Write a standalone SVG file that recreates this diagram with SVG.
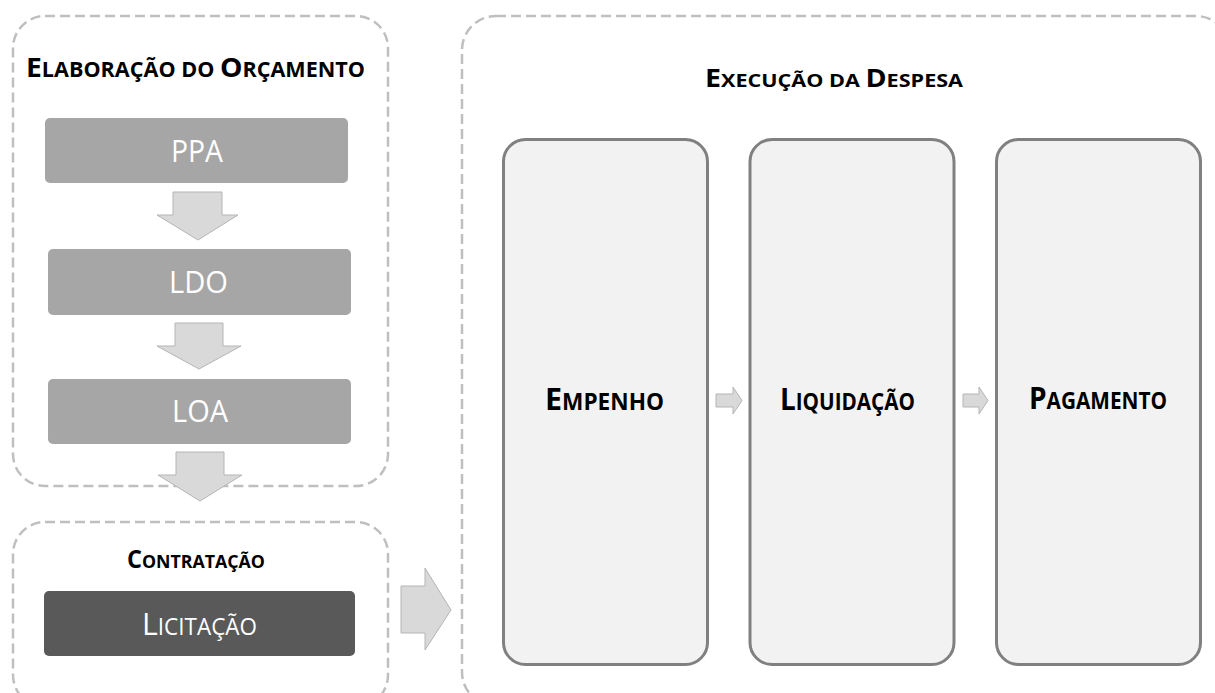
<svg xmlns="http://www.w3.org/2000/svg" width="1215" height="693" viewBox="0 0 1215 693">
<style>
.grp{fill:none;stroke:#bfbfbf;stroke-width:2.5;stroke-dasharray:10 5}
.stage{fill:#a6a6a6}
.dark{fill:#595959}
.step{fill:#f2f2f2;stroke:#808080;stroke-width:3}
.blk{fill:#d9d9d9;stroke:#b5b5b5;stroke-width:1}
.t{font-family:"Open Sans","Noto Sans","Liberation Sans",sans-serif}
.title{font-weight:bold;fill:#000}
.lbl{fill:#fff}
.stepl{font-weight:bold;fill:#000}
</style>
<rect width="1215" height="693" fill="#fff"/>

<g id="group-elaboracao">
<rect class="grp" x="13" y="16" width="375" height="470" rx="32"/>
<text class="t title" x="26" y="77" textLength="339" lengthAdjust="spacingAndGlyphs"><tspan font-size="27.5">E</tspan><tspan font-size="21">LABORAÇÃO DO </tspan><tspan font-size="27.5">O</tspan><tspan font-size="21">RÇAMENTO</tspan></text>
</g>

<g id="group-contratacao">
<rect class="grp" x="13" y="522" width="375" height="185" rx="32"/>
<text class="t title" x="127" y="568" textLength="138" lengthAdjust="spacingAndGlyphs"><tspan font-size="24.5">C</tspan><tspan font-size="18.5">ONTRATAÇÃO</tspan></text>
</g>

<g id="group-execucao">
<rect class="grp" x="462" y="16" width="768" height="690" rx="34"/>
<text class="t title" x="705" y="87" textLength="258" lengthAdjust="spacingAndGlyphs"><tspan font-size="24.5">E</tspan><tspan font-size="18.5">XECUÇÃO DA </tspan><tspan font-size="24.5">D</tspan><tspan font-size="18.5">ESPESA</tspan></text>
</g>

<g id="node-ppa">
<rect class="stage" x="45" y="118" width="303" height="65" rx="5"/>
<text class="t lbl" x="171" y="162" font-size="31" textLength="52" lengthAdjust="spacingAndGlyphs">PPA</text>
</g>

<g id="node-ldo">
<rect class="stage" x="48" y="249" width="303" height="66" rx="5"/>
<text class="t lbl" x="169" y="293" font-size="31" textLength="59" lengthAdjust="spacingAndGlyphs">LDO</text>
</g>

<g id="node-loa">
<rect class="stage" x="48" y="379" width="303" height="65" rx="5"/>
<text class="t lbl" x="172" y="422" font-size="31" textLength="56" lengthAdjust="spacingAndGlyphs">LOA</text>
</g>

<g id="node-licitacao">
<rect class="dark" x="44" y="591" width="311" height="65" rx="5"/>
<text class="t lbl" x="142" y="635" textLength="115" lengthAdjust="spacingAndGlyphs"><tspan font-size="31">L</tspan><tspan font-size="23">ICITAÇÃO</tspan></text>
</g>

<g id="node-empenho">
<rect class="step" x="503.5" y="139.5" width="204" height="525" rx="22"/>
<text class="t stepl" x="545" y="410" textLength="119" lengthAdjust="spacingAndGlyphs"><tspan font-size="31">E</tspan><tspan font-size="23">MPENHO</tspan></text>
</g>

<g id="node-liquidacao">
<rect class="step" x="750" y="139.5" width="204" height="525" rx="22"/>
<text class="t stepl" x="780" y="410" textLength="135" lengthAdjust="spacingAndGlyphs"><tspan font-size="31">L</tspan><tspan font-size="23">IQUIDAÇÃO</tspan></text>
</g>

<g id="node-pagamento">
<rect class="step" x="996.5" y="139.5" width="204" height="525" rx="22"/>
<text class="t stepl" x="1029" y="409" textLength="138" lengthAdjust="spacingAndGlyphs"><tspan font-size="31">P</tspan><tspan font-size="23">AGAMENTO</tspan></text>
</g>

<g id="connectors">
<polygon class="blk" points="173,192 222,192 222,215 238,215 198,240 157,215 173,215"/>
<polygon class="blk" points="175,323 223,323 223,346 241,346 199,369 157,346 175,346"/>
<polygon class="blk" points="176,452 224,452 224,475 242,475 200,501 158,475 176,475"/>
<polygon class="blk" points="401,586 425,586 425,568 451,610 425,650 425,633 401,633"/>
<polygon class="blk" points="716,394 733,394 733,387 742,400.5 733,414 733,407 716,407"/>
<polygon class="blk" points="963,394 979,394 979,387 988,400.5 979,414 979,407 963,407"/>
</g>
</svg>
